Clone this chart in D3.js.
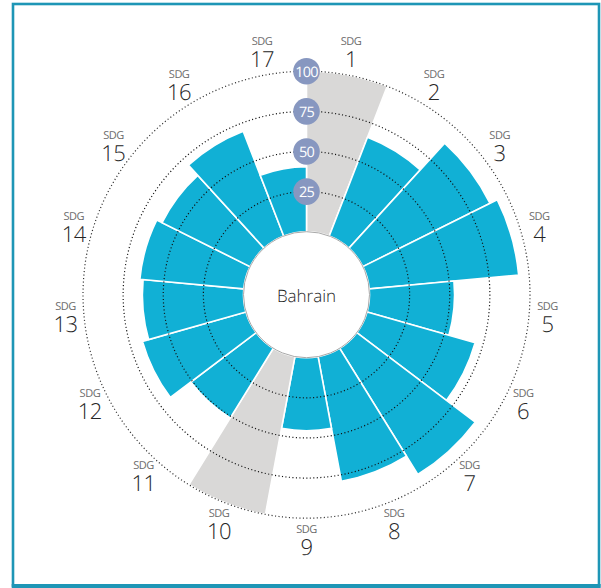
<!DOCTYPE html>
<html>
<head>
<meta charset="utf-8">
<script src="https://cdn.jsdelivr.net/npm/d3@7"></script>
<style>
  html, body { margin: 0; padding: 0; background: #fff; }
  svg { display: block; text-rendering: geometricPrecision; }
</style>
</head>
<body>
<svg id="chart" width="601" height="588"></svg>
<script>
// ---- data ----
const categories = ["1","2","3","4","5","6","7","8","9","10","11","12","13","14","15","16","17"];
const scores = [null, 66, 88.5, 93.5, 53, 70, 92.5, 79, 45.5, null, 51, 67, 63, 65, 61.3, 70, 40.5];
const ringTicks = [25, 50, 75, 100];
const countryName = "Bahrain";
const labelPrefix = "SDG";

// ---- layout ----
const cx = 306.5, cy = 294.7;
const innerR = 63, outerR = 223.5;
const FONT = "'Open Sans', 'Noto Sans', sans-serif";

const svg = d3.select("#chart");

// frame
svg.append("rect").attr("x", 13).attr("y", 4).attr("width", 586).attr("height", 581.5)
  .attr("fill", "none").attr("stroke", "#1e96b6").attr("stroke-width", 2.6);
svg.append("rect").attr("x", 11.7).attr("y", 584).attr("width", 589).attr("height", 4)
  .attr("fill", "#1e96b6");

const g = svg.append("g").attr("transform", `translate(${cx},${cy})`);

const r = d3.scaleLinear().domain([0, 100]).range([innerR, outerR]);
const a = d3.scaleBand().domain(categories).range([0, 2 * Math.PI]).padding(0);

const arc = d3.arc()
  .innerRadius(innerR)
  .outerRadius(d => r(d.v == null ? 100 : d.v))
  .startAngle(d => a(d.c))
  .endAngle(d => a(d.c) + a.bandwidth());

const data = categories.map((c, i) => ({ c, v: scores[i] }));

g.selectAll("path.bar").data(data).enter().append("path")
  .attr("class", "bar")
  .attr("d", arc)
  .attr("fill", d => d.v == null ? "#d9d8d7" : "#11b0d5")
  .attr("stroke", "#fff")
  .attr("stroke-width", 1.6);

// dotted rings
g.selectAll("circle.ring").data(ringTicks).enter().append("circle")
  .attr("class", "ring")
  .attr("r", d => r(d))
  .attr("fill", "none")
  .attr("stroke", d => d === 100 ? "#333" : "#111")
  .attr("stroke-width", 1.2)
  .attr("stroke-dasharray", "1.1,2.4");

// inner circle
g.append("circle").attr("r", innerR).attr("fill", "#fff")
  .attr("stroke", "#a9a9a9").attr("stroke-width", 1);

g.append("text").text(countryName)
  .attr("x", 0).attr("y", 7)
  .attr("text-anchor", "middle")
  .attr("font-family", FONT)
  .attr("font-weight", 300)
  .attr("font-size", 17)
  .attr("fill", "#1e1e1e");

// badges
const badge = g.selectAll("g.badge").data(ringTicks).enter().append("g")
  .attr("class", "badge")
  .attr("transform", d => `translate(0,${-r(d)})`);
badge.append("circle").attr("r", 13.3).attr("fill", "#8797c0");
badge.append("text").text(d => d)
  .attr("text-anchor", "middle").attr("dy", 5.3)
  .attr("font-family", FONT)
  .attr("font-size", 14.5)
  .attr("letter-spacing", -0.8)
  .attr("fill", "#fff");

// labels (one text element, two lines)
const lab = g.selectAll("text.lab").data(categories).enter().append("text")
  .attr("class", "lab")
  .attr("text-anchor", "middle")
  .attr("font-family", FONT)
  .attr("transform", d => {
    const t = a(d) + a.bandwidth() / 2;
    const x = 242 * Math.sin(t);
    const y = -1.5 - 246 * Math.cos(t);
    return `translate(${x},${y})`;
  });
lab.append("tspan").text(labelPrefix)
  .attr("x", 0).attr("y", -6)
  .attr("font-size", 11)
  .attr("letter-spacing", -0.5)
  .attr("fill", "#6a6a6a");
lab.append("tspan").text(d => d)
  .attr("x", 0).attr("y", 16)
  .attr("font-size", 22)
  .attr("font-weight", 300)
  .attr("letter-spacing", -0.5)
  .attr("fill", "#262626");
</script>
</body>
</html>
